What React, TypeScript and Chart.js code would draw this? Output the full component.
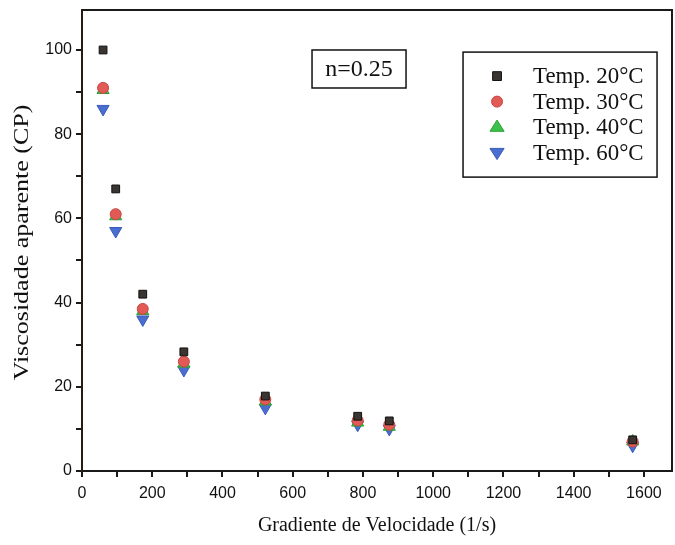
import React, { useEffect, useRef } from "react";
import { Chart, registerables } from "chart.js";

Chart.register(...registerables);

const shearRates = [60, 96, 173, 290, 522, 785, 875, 1568];
const temp20 = [100, 67, 42, 28.3, 17.8, 13, 11.9, 7.4];
const temp30 = [91, 61, 38.5, 26, 17, 12, 11, 7];
const temp40 = [90.5, 60.5, 38, 25.5, 16.5, 11.5, 10.5, 7];
const temp60 = [86, 57, 36, 24, 15, 11, 10, 6];
const seriesLabels = ["Temp. 20°C", "Temp. 30°C", "Temp. 40°C", "Temp. 60°C"];
const annotationText = "n=0.25";
const xTitle = "Gradiente de Velocidade (1/s)";
const yTitle = "Viscosidade aparente (CP)";

const SERIF = "'Liberation Serif', 'Times New Roman', serif";
const NARROW = "'Liberation Sans Narrow', 'Arial Narrow', 'Liberation Sans', sans-serif";

const styles = [
  { pointStyle: "rect", rotation: 0, bg: "#3a3530", border: "#111111", radius: 5.5 },
  { pointStyle: "circle", rotation: 0, bg: "#e25a55", border: "#c84540", radius: 5.5 },
  { pointStyle: "triangle", rotation: 0, bg: "#3cc24a", border: "#2aa038", radius: 7 },
  { pointStyle: "triangle", rotation: 180, bg: "#4a6ed0", border: "#3a5cb8", radius: 7 },
];

function drawMarker(ctx: CanvasRenderingContext2D, style: string, rotation: number, x: number, y: number, r: number) {
  ctx.save();
  ctx.translate(x, y);
  ctx.rotate((rotation * Math.PI) / 180);
  ctx.beginPath();
  if (style === "rect") {
    const s = r * 0.8;
    ctx.rect(-s, -s, 2 * s, 2 * s);
  } else if (style === "circle") {
    ctx.arc(0, 0, r, 0, Math.PI * 2);
  } else {
    const h = r;
    ctx.moveTo(0, -h);
    ctx.lineTo(h * 0.87 + 1, h * 0.6);
    ctx.lineTo(-h * 0.87 - 1, h * 0.6);
    ctx.closePath();
  }
  ctx.fill();
  ctx.stroke();
  ctx.restore();
}

const frameAndLegend = {
  id: "frameAndLegend",
  afterDraw(chart: any) {
    const { ctx, chartArea } = chart;
    ctx.save();
    ctx.strokeStyle = "#1a1a1a";
    ctx.lineWidth = 2;
    ctx.beginPath();
    ctx.moveTo(chartArea.left, chartArea.top);
    ctx.lineTo(chartArea.right, chartArea.top);
    ctx.lineTo(chartArea.right, chartArea.bottom);
    ctx.stroke();

    // y title
    ctx.save();
    ctx.translate(22, (chartArea.top + chartArea.bottom) / 2 + 2);
    ctx.rotate(-Math.PI / 2);
    ctx.scale(1.3, 1.05);
    ctx.fillStyle = "#111";
    ctx.font = `20px ${SERIF}`;
    ctx.textAlign = "center";
    ctx.textBaseline = "middle";
    ctx.fillText(yTitle, 0, 0);
    ctx.restore();

    const ax = chart.scales.x;
    const ay = chart.scales.y;

    // annotation box
    const bx = ax.getPixelForValue(655);
    const by = ay.getPixelForValue(100);
    const bw = 94;
    const bh = 38;
    ctx.lineWidth = 1.5;
    ctx.strokeStyle = "#111";
    ctx.strokeRect(bx, by, bw, bh);
    ctx.fillStyle = "#111";
    ctx.font = `24px ${SERIF}`;
    ctx.textAlign = "center";
    ctx.textBaseline = "middle";
    ctx.fillText(annotationText, bx + bw / 2, by + bh / 2 + 1);

    // legend
    const lx = ax.getPixelForValue(1085);
    const ly = ay.getPixelForValue(99.5);
    const lw = 194;
    const lh = 125;
    ctx.lineWidth = 1.5;
    ctx.strokeRect(lx, ly, lw, lh);
    ctx.textAlign = "left";
    for (let i = 0; i < seriesLabels.length; i++) {
      const cy = ly + 24 + i * 25.5;
      const st = styles[i];
      ctx.fillStyle = st.bg;
      ctx.strokeStyle = st.border;
      ctx.lineWidth = 1;
      drawMarker(ctx, st.pointStyle, st.rotation, lx + 34, cy, st.radius);
      ctx.save();
      ctx.translate(lx + 70, cy + 1);
      ctx.scale(1.04, 1.08);
      ctx.fillStyle = "#111";
      ctx.font = `22px ${SERIF}`;
      ctx.fillText(seriesLabels[i], 0, 0);
      ctx.restore();
    }
    ctx.restore();
  },
};

export default function App() {
  const ref = useRef<HTMLCanvasElement>(null);
  useEffect(() => {
    if (!ref.current) return;
    const all = [temp20, temp30, temp40, temp60];
    const chart = new Chart(ref.current, {
      type: "scatter",
      data: {
        datasets: all.map((vals, i) => ({
          label: seriesLabels[i],
          data: shearRates.map((x, j) => ({ x, y: vals[j] })),
          pointStyle: styles[i].pointStyle as any,
          rotation: styles[i].rotation,
          pointRadius: styles[i].radius,
          backgroundColor: styles[i].bg,
          borderColor: styles[i].border,
          borderWidth: 1,
        })),
      },
      options: {
        animation: false,
        responsive: false,
        maintainAspectRatio: false,
        layout: { autoPadding: false, padding: { top: 10, right: 3, left: 0, bottom: 0 } },
        plugins: { legend: { display: false }, tooltip: { enabled: false } },
        scales: {
          x: {
            type: "linear",
            min: 0,
            max: 1680,
            afterFit: (scale: any) => {
              scale.height = 74;
              scale.paddingLeft = 0;
              scale.paddingRight = 0;
            },
            ticks: {
              stepSize: 100,
              includeBounds: false,
              autoSkip: false,
              maxRotation: 0,
              padding: 7,
              color: "#111",
              font: { family: NARROW, size: 16 },
              callback: (v: any) => (v % 200 === 0 ? String(v) : ""),
            },
            grid: { display: true, drawOnChartArea: false, drawTicks: true, tickLength: 6, color: "#1a1a1a", lineWidth: 2 },
            border: { display: true, color: "#1a1a1a", width: 2 },
            title: {
              display: true,
              text: xTitle,
              color: "#111",
              font: { family: SERIF, size: 20 },
              padding: { top: 0, bottom: 7 },
            },
          },
          y: {
            type: "linear",
            min: 0,
            max: 109.5,
            afterFit: (scale: any) => {
              scale.width = 82;
              scale.paddingTop = 0;
              scale.paddingBottom = 0;
            },
            ticks: {
              stepSize: 10,
              includeBounds: false,
              autoSkip: false,
              padding: 4,
              color: "#111",
              font: { family: NARROW, size: 16 },
              callback: (v: any) => (v % 20 === 0 ? String(v) : ""),
            },
            grid: { display: true, drawOnChartArea: false, drawTicks: true, tickLength: 6, color: "#1a1a1a", lineWidth: 2 },
            border: { display: true, color: "#2a1a14", width: 2 },
            title: { display: false, text: yTitle },
          },
        },
      },
      plugins: [frameAndLegend],
    });
    return () => chart.destroy();
  }, []);
  return (
    <div style={{ position: "fixed", left: 0, top: 0, width: 675, height: 545, background: "#fff" }}>
      <canvas ref={ref} width={675} height={545} style={{ display: "block" }} />
    </div>
  );
}
